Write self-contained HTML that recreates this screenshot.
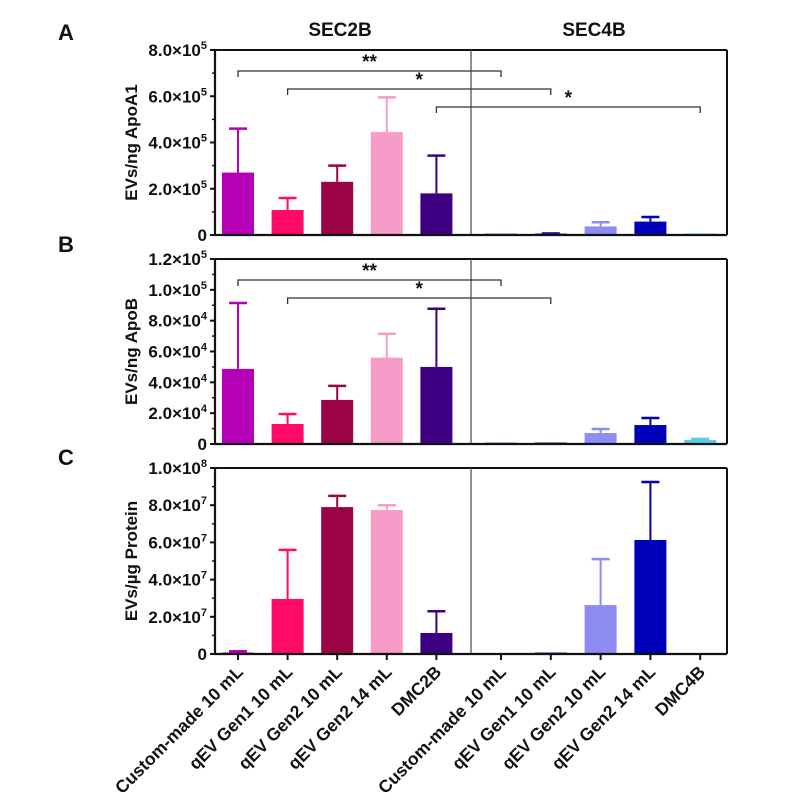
<!DOCTYPE html>
<html><head><meta charset="utf-8">
<style>
body{margin:0;background:#fff;}
svg text{font-family:"Liberation Sans Narrow","Liberation Sans",sans-serif;font-weight:bold;fill:#111;}
</style></head>
<body>
<svg id="chart" width="787" height="805" viewBox="0 0 787 805" xmlns="http://www.w3.org/2000/svg"></svg>
<script>
const categories = ["Custom-made 10 mL","qEV Gen1 10 mL","qEV Gen2 10 mL","qEV Gen2 14 mL","DMC2B","Custom-made 10 mL","qEV Gen1 10 mL","qEV Gen2 10 mL","qEV Gen2 14 mL","DMC4B"];
const colors = ["#b600b8","#ff0a66","#9a0346","#f79cc8","#3d0080","#4a88ea","#1c1c9c","#8c8cf2","#0000b8","#58cdee"];
const apoA1Means = [2.7e5,1.08e5,2.3e5,4.45e5,1.8e5,0.01e5,0.05e5,0.37e5,0.58e5,0.01e5];
const apoA1Errs  = [4.6e5,1.6e5,3.0e5,5.95e5,3.43e5,0.01e5,0.07e5,0.55e5,0.78e5,0.01e5];
const apoBMeans = [4.87e4,1.3e4,2.86e4,5.6e4,5.0e4,0.02e4,0.05e4,0.71e4,1.23e4,0.26e4];
const apoBErrs  = [9.15e4,1.95e4,3.77e4,7.15e4,8.77e4,0.02e4,0.05e4,0.97e4,1.69e4,0.33e4];
const protMeans = [0.08e7,2.96e7,7.9e7,7.74e7,1.13e7,0,0.03e7,2.63e7,6.13e7,0];
const protErrs  = [0.15e7,5.6e7,8.5e7,8.0e7,2.3e7,0,0.03e7,5.1e7,9.25e7,0];
const ticksA = [0,2e5,4e5,6e5,8e5];
const ticksB = [0,2e4,4e4,6e4,8e4,1e5,1.2e5];
const ticksC = [0,2e7,4e7,6e7,8e7,1e8];
const tickLabelsA = ["0","2.0×10|5","4.0×10|5","6.0×10|5","8.0×10|5"];
const tickLabelsB = ["0","2.0×10|4","4.0×10|4","6.0×10|4","8.0×10|4","1.0×10|5","1.2×10|5"];
const tickLabelsC = ["0","2.0×10|7","4.0×10|7","6.0×10|7","8.0×10|7","1.0×10|8"];
const bracketsA = [[0,5,"**"],[1,6,"*"],[4,9,"*"]];
const bracketsB = [[0,5,"**"],[1,6,"*"]];

const NS="http://www.w3.org/2000/svg";
const svg=document.getElementById('chart');
function mk(tag,attrs,parent){const e=document.createElementNS(NS,tag);for(const k in attrs)e.setAttribute(k,attrs[k]);(parent||svg).appendChild(e);return e;}
const X0=215,X1=727,DIV=471;
function xPos(i){return i<5?238+i*49.6:501+(i-5)*49.8;}
const BW=32;

function panel(name,top,bottom,max,means,errs,ticks,labels,title,brackets,xticks){
  const g=mk('g',{});
  
  
  const y=v=>bottom-(v/max)*(bottom-top);
  means.forEach((m,i)=>{
    const cx=xPos(i),c=colors[i];
    const e=errs[i];
    if(e>m){
      const el=mk('line',{x1:cx,x2:cx,y1:y(m),y2:y(e),stroke:c,'stroke-width':2},g);
      
      
      const cap=mk('line',{x1:cx-9,x2:cx+9,y1:y(e),y2:y(e),stroke:c,'stroke-width':2.5},g);
      
      
    }
    const h=Math.max(bottom-y(m),m>0?1.5:0);
    const r=mk('rect',{x:cx-BW/2,y:bottom-h,width:BW,height:h,fill:c},g);
    
    
  });
  mk('line',{x1:X0,x2:X1,y1:top,y2:top,stroke:'#111','stroke-width':2},g);
  mk('line',{x1:X1,x2:X1,y1:top,y2:bottom,stroke:'#111','stroke-width':2},g);
  mk('line',{x1:DIV,x2:DIV,y1:top,y2:bottom,stroke:'#555','stroke-width':1.3},g);
  const xa=mk('line',{x1:X0,x2:X1,y1:bottom,y2:bottom,stroke:'#111','stroke-width':2.2},g);
  
  const ya=mk('line',{x1:X0,x2:X0,y1:top-1,y2:bottom+1,stroke:'#111','stroke-width':2.2},g);
  
  ticks.forEach((t,k)=>{
    const yy=y(t);
    mk('line',{x1:X0-5,x2:X0,y1:yy,y2:yy,stroke:'#111','stroke-width':2},g);
    if(k<ticks.length-1){const ym=y((t+ticks[k+1])/2);mk('line',{x1:X0-3,x2:X0,y1:ym,y2:ym,stroke:'#111','stroke-width':1.5},g);}
    const parts=labels[k].split('|');
    const tx=mk('text',{x:X0-8,y:yy+6,'text-anchor':'end','font-size':17},g);
    
    
    tx.appendChild(document.createTextNode(parts[0]));
    if(parts[1]){const s=mk('tspan',{dy:-7,'font-size':11},tx);s.textContent=parts[1];}
  });
  const yt=mk('text',{x:0,y:0,'text-anchor':'middle','font-size':17,transform:`translate(137,${(top+bottom)/2}) rotate(-90)`,style:'font-family:"Liberation Sans",sans-serif'},g);
  yt.textContent=title;
  
  
  (brackets||[]).forEach((b,k)=>{
    const by=top+21+k*18, x1=xPos(b[0]), x2=xPos(b[1]);
    const p=mk('path',{d:`M${x1},${by+6}V${by}H${x2}V${by+6}`,fill:'none',stroke:'#333','stroke-width':1.3},g);
    
    
    const st=mk('text',{x:(x1+x2)/2,y:by-3,'text-anchor':'middle','font-size':19},g);
    st.textContent=b[2];
    
    
  });
  if(xticks){
    categories.forEach((c,i)=>{
      const cx=xPos(i);
      mk('line',{x1:cx,x2:cx,y1:bottom,y2:bottom+6,stroke:'#111','stroke-width':2},g);
      const t=mk('text',{x:0,y:0,'text-anchor':'end','font-size':17.5,transform:`translate(${cx+6},${bottom+19}) rotate(-45)`,style:'font-family:"Liberation Sans",sans-serif'},g);
      t.textContent=c;
      
      
    });
  }
}
panel('panel-a-apoa1',50,235,8e5,apoA1Means,apoA1Errs,ticksA,tickLabelsA,'EVs/ng ApoA1',bracketsA,false);
panel('panel-b-apob',259,444,1.2e5,apoBMeans,apoBErrs,ticksB,tickLabelsB,'EVs/ng ApoB',bracketsB,false);
panel('panel-c-protein',468,654,1e8,protMeans,protErrs,ticksC,tickLabelsC,'EVs/µg Protein',null,true);

[['A',40],['B',252],['C',465]].forEach(p=>{
  const t=mk('text',{x:58,y:p[1],'font-size':22,style:'font-family:"Liberation Sans",sans-serif'});
  t.textContent=p[0];
  
  
});
[['SEC2B',340],['SEC4B',594]].forEach(p=>{
  const t=mk('text',{x:p[1],y:36,'text-anchor':'middle','font-size':19});
  t.textContent=p[0];
  
  
});
</script>
</body></html>
